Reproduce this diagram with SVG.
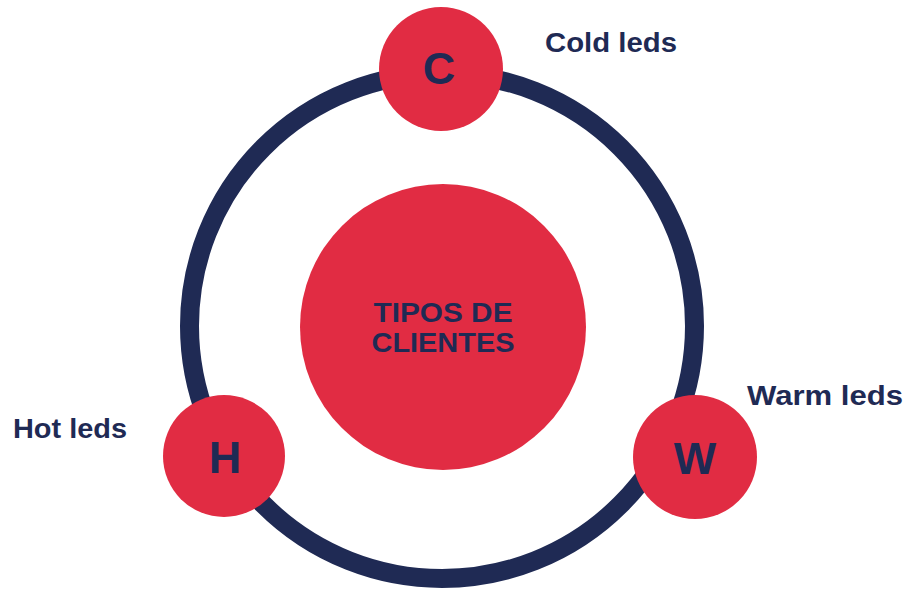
<svg xmlns="http://www.w3.org/2000/svg" width="905" height="590" viewBox="0 0 905 590">
<style>
.node{fill:#E12C43}
.ring{fill:none;stroke:#1F2A54;stroke-width:19}
.letter{font-family:"Liberation Sans",Arial,sans-serif;font-weight:bold;font-size:45px;fill:#1F2A54;text-anchor:middle}
.label{font-family:"Liberation Sans",Arial,sans-serif;font-weight:bold;font-size:27px;fill:#1F2A54}
.center{font-family:"Liberation Sans",Arial,sans-serif;font-weight:bold;font-size:27px;fill:#1F2A54;text-anchor:middle}
</style>
<rect width="905" height="590" fill="#FFFFFF"/>
<g id="connectors">
<circle class="ring" cx="442" cy="326" r="252.5"/>
</g>
<g id="center">
<circle class="node" cx="443" cy="327" r="143"/>
<text class="center" x="443" y="322" textLength="139" lengthAdjust="spacingAndGlyphs">TIPOS DE</text>
<text class="center" x="443" y="352" textLength="143" lengthAdjust="spacingAndGlyphs">CLIENTES</text>
</g>
<g id="node-c">
<circle class="node" cx="441" cy="69" r="62"/>
<text class="letter" x="439" y="84">C</text>
<text class="label" x="545" y="52" textLength="132" lengthAdjust="spacingAndGlyphs">Cold leds</text>
</g>
<g id="node-h">
<circle class="node" cx="224" cy="456" r="61"/>
<text class="letter" x="225" y="473">H</text>
<text class="label" x="13" y="438" textLength="114" lengthAdjust="spacingAndGlyphs">Hot leds</text>
</g>
<g id="node-w">
<circle class="node" cx="695" cy="457" r="62"/>
<text class="letter" x="695" y="474">W</text>
<text class="label" x="747" y="405" textLength="156" lengthAdjust="spacingAndGlyphs">Warm leds</text>
</g>
</svg>
